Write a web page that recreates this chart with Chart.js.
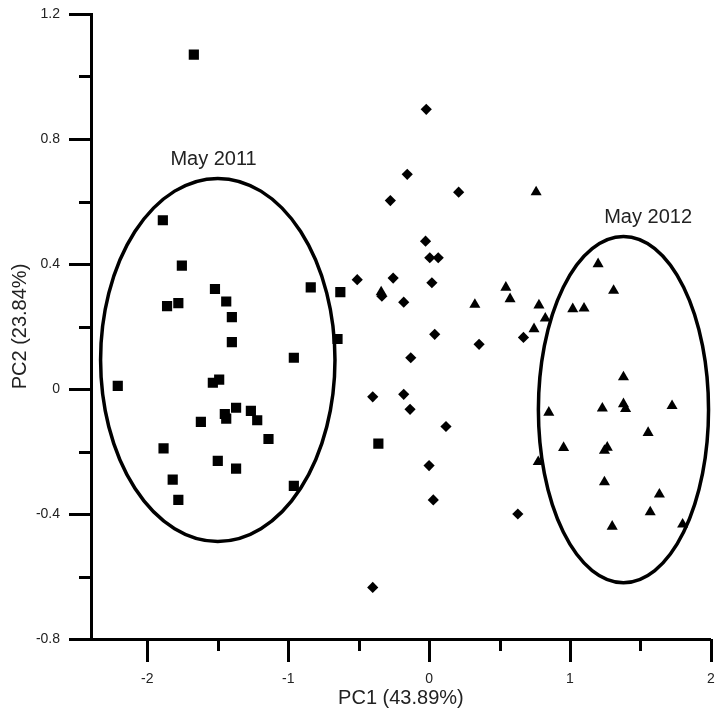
<!DOCTYPE html>
<html>
<head>
<meta charset="utf-8">
<script src="https://cdn.jsdelivr.net/npm/chart.js@4.4.0/dist/chart.umd.min.js"></script>
<style>
  html, body { margin: 0; padding: 0; background: #fff; }
</style>
</head>
<body>
<canvas id="grafic-pca" width="718" height="719"></canvas>
<script>
// May 2011 (squares)
const patrateX = [-1.67, -1.89, -1.755, -1.86, -1.78, -1.52, -1.44, -1.40, -1.40, -0.84,
  -0.63, -0.65, -0.96, -2.21, -1.535, -1.49, -1.37, -1.45, -1.44, -1.265,
  -1.22, -1.62, -1.14, -1.885, -1.50, -1.37, -1.82, -0.96, -1.78, -0.36];
const patrateY = [1.07, 0.54, 0.395, 0.265, 0.275, 0.32, 0.28, 0.23, 0.15, 0.325,
  0.31, 0.16, 0.10, 0.01, 0.02, 0.03, -0.06, -0.08, -0.095, -0.07,
  -0.10, -0.105, -0.16, -0.19, -0.23, -0.255, -0.29, -0.31, -0.355, -0.175];

// middle group (diamonds)
const romburiX = [-0.02, -0.155, 0.21, -0.275, -0.025, 0.005, 0.065, -0.51, -0.255, 0.02,
  -0.335, -0.18, 0.04, 0.355, 0.67, -0.13, -0.40, -0.18, -0.135, 0.12,
  0.0, 0.03, 0.63, -0.40];
const romburiY = [0.895, 0.687, 0.63, 0.603, 0.473, 0.42, 0.42, 0.35, 0.355, 0.34,
  0.297, 0.278, 0.175, 0.143, 0.165, 0.10, -0.025, -0.017, -0.065, -0.12,
  -0.245, -0.355, -0.40, -0.635];

// May 2012 (triangles)
const triunghiuriX = [-0.34, 0.325, 0.545, 0.575, 0.76, 0.78, 0.825, 0.745, 1.20, 1.31,
  1.02, 1.10, 1.38, 1.38, 1.395, 1.23, 1.725, 0.85, 1.555, 0.955,
  1.265, 1.245, 0.775, 1.245, 1.635, 1.57, 1.30, 1.80];
const triunghiuriY = [0.31, 0.27, 0.325, 0.288, 0.63, 0.268, 0.226, 0.192, 0.40, 0.315,
  0.256, 0.258, 0.038, -0.048, -0.063, -0.062, -0.054, -0.075, -0.14, -0.188,
  -0.187, -0.197, -0.233, -0.298, -0.337, -0.394, -0.44, -0.433];

// ellipses around the two sampling dates
const eticheteGrupuri = ['May 2011', 'May 2012'];
const centreElipse = [[-1.5, 0.093], [1.38, -0.066]];
const razeElipse = [[0.832, 0.581], [0.604, 0.554]];
const pozitiiEtichete = [[-1.53, 0.733], [1.555, 0.548]];

// axes
const tickuriX = [-2, -1, 0, 1, 2];
const tickuriXMinore = [-1.5, -0.5, 0.5, 1.5];
const tickuriY = [-0.8, -0.4, 0, 0.4, 0.8, 1.2];
const tickuriYMinore = [-0.6, -0.2, 0.2, 0.6, 1.0];

const FONT = "'Liberation Sans', Arial, sans-serif";

const puncte = (xs, ys) => xs.map((x, i) => ({ x, y: ys[i] }));

const eAproape = (a, b) => Math.abs(a - b) < 1e-6;

function construiesteTickuri(majore, minore) {
  return [...majore, ...minore].sort((a, b) => a - b).map((v) => ({ value: v }));
}

function formateaza(v) {
  if (eAproape(v, 0)) return '0';
  return Number.isInteger(Math.round(v * 1e6) / 1e6) ? String(Math.round(v)) : v.toFixed(1);
}

// elipse + etichete
const pluginElipse = {
  id: 'elipse',
  beforeDatasetsDraw(chart) {
    const { ctx, scales: { x, y } } = chart;
    ctx.save();
    ctx.strokeStyle = '#000';
    ctx.lineWidth = 3.5;
    centreElipse.forEach((c, i) => {
      const cx = x.getPixelForValue(c[0]);
      const cy = y.getPixelForValue(c[1]);
      const rx = Math.abs(x.getPixelForValue(c[0] + razeElipse[i][0]) - cx);
      const ry = Math.abs(y.getPixelForValue(c[1] + razeElipse[i][1]) - cy);
      ctx.beginPath();
      ctx.ellipse(cx, cy, rx, ry, 0, 0, Math.PI * 2);
      ctx.stroke();
    });
    ctx.fillStyle = '#222';
    ctx.font = '20px ' + FONT;
    ctx.textAlign = 'center';
    ctx.textBaseline = 'middle';
    eticheteGrupuri.forEach((t, i) => {
      const p = pozitiiEtichete[i];
      ctx.fillText(t, x.getPixelForValue(p[0]), y.getPixelForValue(p[1]));
    });
    ctx.restore();
  }
};

// tick marks, long for major, short for minor, pointing outward
const pluginTickuri = {
  id: 'tickuri',
  afterDraw(chart) {
    const { ctx, chartArea, scales: { x, y } } = chart;
    ctx.save();
    ctx.strokeStyle = '#000';
    ctx.lineWidth = 3;
    ctx.beginPath();
    x.ticks.forEach((t) => {
      const px = Math.round(x.getPixelForValue(t.value)) + 0.5;
      const len = tickuriX.some((v) => eAproape(v, t.value)) ? 23 : 12;
      ctx.moveTo(px, chartArea.bottom);
      ctx.lineTo(px, chartArea.bottom + len);
    });
    y.ticks.forEach((t) => {
      const py = Math.round(y.getPixelForValue(t.value)) + 0.5;
      const len = tickuriY.some((v) => eAproape(v, t.value)) ? 22 : 12;
      ctx.moveTo(chartArea.left + 1, py);
      ctx.lineTo(chartArea.left - len, py);
    });
    ctx.stroke();
    ctx.restore();
  }
};

const ctx = document.getElementById('grafic-pca');

new Chart(ctx, {
  type: 'scatter',
  data: {
    datasets: [
      {
        label: 'May 2011',
        data: puncte(patrateX, patrateY),
        pointStyle: 'rect',
        pointRadius: 7.2,
        backgroundColor: '#000',
        borderWidth: 0
      },
      {
        label: 'middle',
        data: puncte(romburiX, romburiY),
        pointStyle: 'rectRot',
        pointRadius: 5.6,
        backgroundColor: '#000',
        borderWidth: 0
      },
      {
        label: 'May 2012',
        data: puncte(triunghiuriX, triunghiuriY),
        pointStyle: 'triangle',
        pointRadius: 6.4,
        backgroundColor: '#000',
        borderWidth: 0
      }
    ]
  },
  options: {
    responsive: false,
    animation: false,
    layout: { padding: { top: 14, right: 2, left: 0, bottom: 0 } },
    plugins: { legend: { display: false }, tooltip: { enabled: false } },
    scales: {
      x: {
        type: 'linear',
        min: -2.4,
        max: 2,
        afterBuildTicks: (s) => { s.ticks = construiesteTickuri(tickuriX, tickuriXMinore); },
        afterFit: (s) => { s.height = 80; s.paddingLeft = 0; s.paddingRight = 0; },
        grid: { display: false, drawTicks: false },
        border: { display: true, color: '#000', width: 3 },
        ticks: {
          autoSkip: false,
          maxRotation: 0,
          padding: 32,
          color: '#222',
          font: { family: FONT, size: 14 },
          callback: (v) => (tickuriX.some((m) => eAproape(m, v)) ? formateaza(v) : '')
        },
        title: {
          display: true,
          text: 'PC1 (43.89%)',
          color: '#222',
          font: { family: FONT, size: 20 },
          padding: { top: 0, bottom: 9 }
        }
      },
      y: {
        type: 'linear',
        min: -0.8,
        max: 1.2,
        afterBuildTicks: (s) => { s.ticks = construiesteTickuri(tickuriY, tickuriYMinore); },
        afterFit: (s) => { s.width = 91; s.paddingTop = 0; s.paddingBottom = 0; },
        grid: { display: false, drawTicks: false },
        border: { display: true, color: '#000', width: 3 },
        ticks: {
          autoSkip: false,
          padding: 31,
          color: '#222',
          font: { family: FONT, size: 14 },
          callback: (v) => (tickuriY.some((m) => eAproape(m, v)) ? formateaza(v) : '')
        },
        title: {
          display: true,
          text: 'PC2 (23.84%)',
          color: '#222',
          font: { family: FONT, size: 20 },
          padding: { top: 8, bottom: 0 }
        }
      }
    }
  },
  plugins: [pluginElipse, pluginTickuri]
});
</script>
</body>
</html>
